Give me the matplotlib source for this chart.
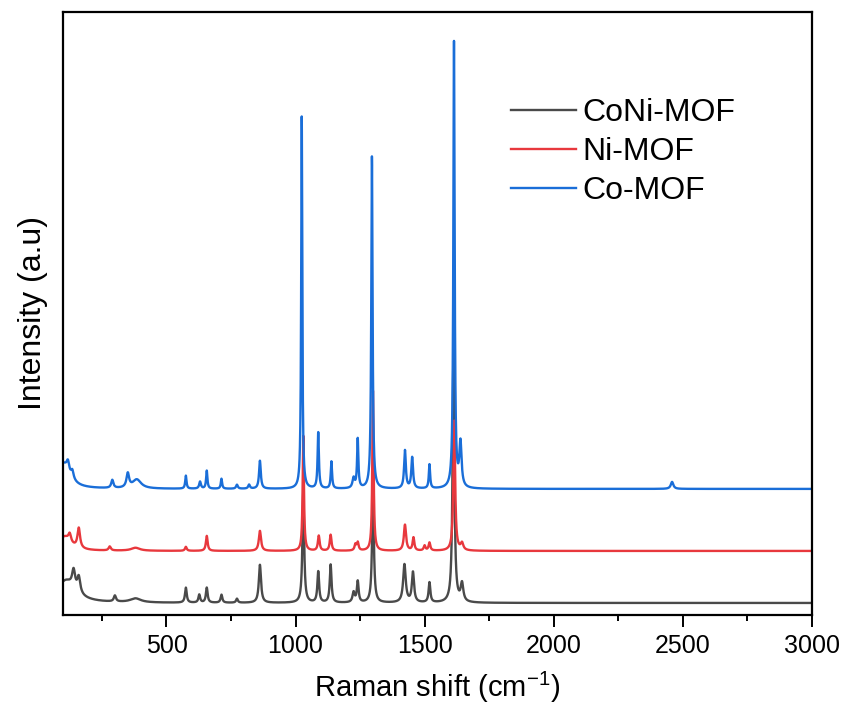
import numpy as np
import matplotlib
matplotlib.use("Agg")
import matplotlib.pyplot as plt
from matplotlib.ticker import MultipleLocator

plt.rcParams["font.family"] = ["Liberation Sans", "DejaVu Sans"]
plt.rcParams["mathtext.fontset"] = "custom"
plt.rcParams["mathtext.rm"] = "Liberation Sans"
plt.rcParams["mathtext.it"] = "Liberation Sans:italic"

# Raman shift range (cm-1)
shift_min, shift_max = 100, 3000

series_names = ["CoNi-MOF", "Ni-MOF", "Co-MOF"]
series_colors = ["#4a4a4a", "#e8383d", "#1a6ed8"]

# stacking offsets of the three spectra (a.u.)
offsets = [12, 64, 126]

# band tables: (centre cm-1, height a.u., half width cm-1)
coni_bands = [
    (110, 22, 45), (140, 18, 7), (160, 16, 7), (300, 6, 5), (380, 4, 25),
    (575, 15, 4), (627, 8, 4), (656, 15, 4), (713, 8, 4), (773, 4, 4),
    (862, 38, 5), (1030, 110, 4), (1088, 31, 4), (1136, 38, 4),
    (1225, 10, 5), (1241, 21, 4), (1300, 115, 4), (1422, 38, 6),
    (1455, 30, 5), (1519, 20, 4), (1612, 260, 4), (1645, 18, 6),
]
ni_bands = [
    (105, 14, 30), (125, 8, 6), (160, 20, 6), (280, 4, 5), (380, 3, 20),
    (575, 4, 4), (656, 15, 4), (862, 20, 5), (1030, 115, 3), (1090, 15, 4),
    (1136, 16, 4), (1232, 6, 4), (1241, 8, 4), (1300, 160, 3),
    (1424, 26, 5), (1457, 13, 4), (1500, 5, 4), (1519, 8, 4),
    (1615, 130, 4), (1645, 7, 6),
]
co_bands = [
    (100, 25, 30), (118, 10, 6), (135, 8, 6), (290, 8, 5), (350, 14, 6),
    (385, 9, 20), (575, 13, 3), (630, 7, 4), (656, 18, 3), (713, 10, 3),
    (773, 4, 4), (820, 4, 4), (862, 28, 4), (1024, 372, 2.5),
    (1088, 56, 3), (1139, 27, 3), (1225, 10, 5), (1241, 49, 3),
    (1296, 332, 3), (1424, 38, 4), (1452, 31, 4), (1519, 24, 3),
    (1614, 446, 3), (1639, 44, 5), (2459, 7, 6),
]
all_bands = [coni_bands, ni_bands, co_bands]


def spectrum(x, bands, offset):
    y = np.full_like(x, float(offset))
    for c, h, w in bands:
        y += h * w ** 2 / ((x - c) ** 2 + w ** 2)
    return y


x = np.arange(shift_min, shift_max + 0.5, 0.5)

fig = plt.figure(figsize=(8.47, 7.17), dpi=100)
ax = fig.add_axes([0.0747, 0.1423, 0.8836, 0.8414])

for name, color, bands, off in zip(series_names, series_colors, all_bands, offsets):
    ax.plot(x, spectrum(x, bands, off), color=color, lw=1.7, label=name)

ax.set_xlim(shift_min, shift_max)
ax.set_ylim(0, 603)
ax.set_yticks([])
ax.xaxis.set_major_locator(MultipleLocator(500))
ax.xaxis.set_minor_locator(MultipleLocator(250))
ax.set_xticks([500, 1000, 1500, 2000, 2500, 3000])
ax.tick_params(axis="x", which="major", direction="out", length=8.5, width=1.4,
               labelsize=18, pad=5)
ax.tick_params(axis="x", which="minor", direction="out", length=4.5, width=1.4)
ax.tick_params(top=False, right=False)
for s in ax.spines.values():
    s.set_linewidth(1.6)

ax.set_xlabel("Raman shift (cm$^{-1}$)", fontsize=21, labelpad=9)
ax.set_ylabel("Intensity (a.u)", fontsize=23, labelpad=11)

ax.legend(loc="upper left", bbox_to_anchor=(0.598, 0.857), frameon=False,
          fontsize=23, handlelength=2.05, handletextpad=0.2,
          labelspacing=0.28, borderpad=0, borderaxespad=0)

fig.savefig("out.png", dpi=100)
